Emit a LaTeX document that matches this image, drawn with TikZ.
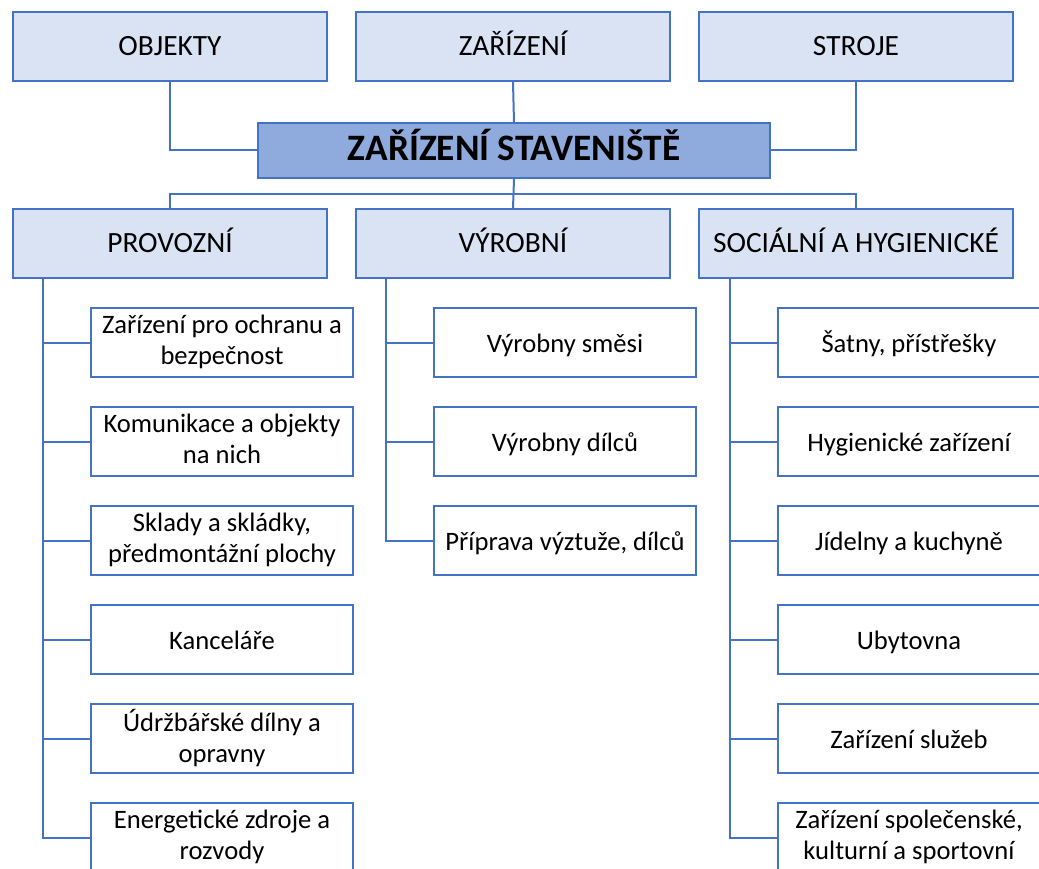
\documentclass[tikz,border=0pt]{standalone}
\usepackage{fontspec}
\setmainfont{Carlito}
\definecolor{bord}{HTML}{4472C4}
\definecolor{lightf}{HTML}{DAE3F3}
\definecolor{midf}{HTML}{8FAADC}
\newcommand\mystrut{\rule[-5.5pt]{0pt}{31pt}}
\begin{document}
\begin{tikzpicture}[x=1pt,y=-1pt,
  box/.style={draw=bord,line width=2pt,anchor=north west,minimum width=314pt,minimum height=69pt,inner sep=0pt,align=center},
  head/.style={box,fill=lightf,font=\fontsize{29.4}{35}\selectfont,text height=22pt,text depth=3pt},
  leaf/.style={box,fill=white,minimum width=262pt,font=\fontsize{26.6}{31}\selectfont,execute at begin node=\mystrut,execute at end node=\mystrut},
  conn/.style={draw=bord,line width=2pt}]
\clip (0,0) rectangle (1039,869);
\fill[white] (0,0) rectangle (1039,869);
% top row
\node[head] (obj) at (12,11) {OBJEKTY};
\node[head] (zar) at (355,11) {ZAŘÍZENÍ};
\node[head] (str) at (698,11) {STROJE};
\node[box,fill=midf,minimum width=512pt,minimum height=55pt,font=\fontsize{37.3}{42}\selectfont\bfseries,text height=24pt,text depth=3pt] (cen) at (257,122) {ZAŘÍZENÍ STAVENIŠTĚ};
% second row
\node[head] (prov) at (12,208) {PROVOZNÍ};
\node[head] (vyr) at (355,208) {VÝROBNÍ};
\node[head] (soc) at (698,208) {SOCIÁLNÍ A HYGIENICKÉ};
% leaves
\node[leaf] (p1) at (90,307) {Zařízení pro ochranu a\\bezpečnost};
\node[leaf] (p2) at (90,406) {Komunikace a objekty\\na nich};
\node[leaf] (p3) at (90,505) {Sklady a skládky,\\předmontážní plochy};
\node[leaf] (p4) at (90,604) {Kanceláře};
\node[leaf] (p5) at (90,703) {Údržbářské dílny a\\opravny};
\node[leaf] (p6) at (90,802) {Energetické zdroje a\\rozvody};
\node[leaf] (v1) at (433,307) {Výrobny směsi};
\node[leaf] (v2) at (433,406) {Výrobny dílců};
\node[leaf] (v3) at (433,505) {Příprava výztuže, dílců};
\node[leaf] (s1) at (777,307) {Šatny, přístřešky};
\node[leaf] (s2) at (777,406) {Hygienické zařízení};
\node[leaf] (s3) at (777,505) {Jídelny a kuchyně};
\node[leaf] (s4) at (777,604) {Ubytovna};
\node[leaf] (s5) at (777,703) {Zařízení služeb};
\node[leaf] (s6) at (777,802) {Zařízení společenské,\\kulturní a sportovní};
% connectors top
\draw[conn] (obj.south) |- (cen.west);
\draw[conn] (str.south) |- (cen.east);
\draw[conn] (zar.south) -- (cen.north);
\coordinate (hb) at (512,194);
\draw[conn] (cen.south) -- (vyr.north);
\draw[conn] (prov.north) -- (prov.north |- hb) -- (soc.north |- hb) -- (soc.north);
% trunks
\coordinate (tp) at (43,278);
\coordinate (tv) at (386,278);
\coordinate (ts) at (730,278);
\draw[conn] (tp) |- (p6.west);
\foreach \n in {p1,p2,p3,p4,p5} \draw[conn] (\n.west) -- (\n.west -| tp);
\draw[conn] (tv) |- (v3.west);
\foreach \n in {v1,v2} \draw[conn] (\n.west) -- (\n.west -| tv);
\draw[conn] (ts) |- (s6.west);
\foreach \n in {s1,s2,s3,s4,s5} \draw[conn] (\n.west) -- (\n.west -| ts);
\end{tikzpicture}
\end{document}
